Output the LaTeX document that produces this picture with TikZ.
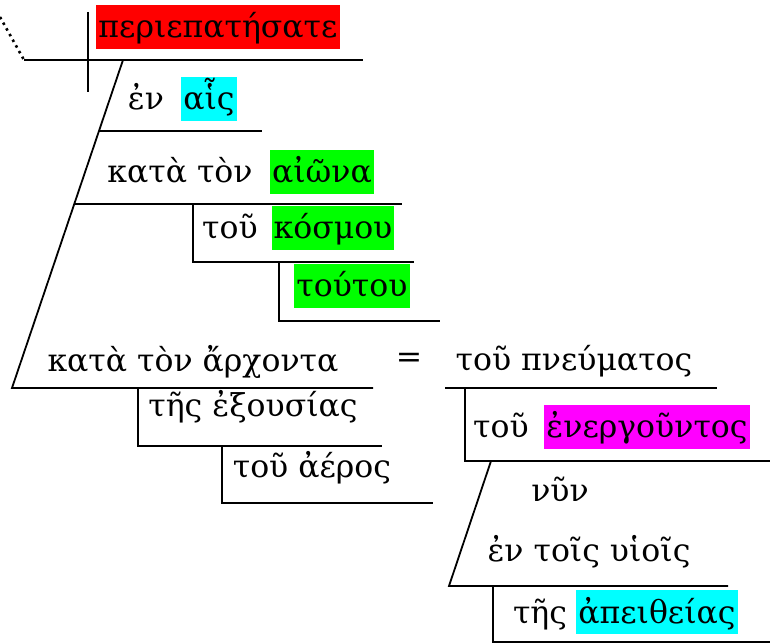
\documentclass[tikz,border=0pt]{standalone}
\usepackage{fontspec}
\setmainfont{DejaVu Serif}
\usepackage{tikz}
\usetikzlibrary{positioning}
\definecolor{hlred}{RGB}{255,0,0}
\definecolor{hlcyan}{RGB}{0,255,255}
\definecolor{hlgreen}{RGB}{0,255,0}
\definecolor{hlmagenta}{RGB}{255,0,255}

\begin{document}
\begin{tikzpicture}[
    x=1pt, y=-1pt,
    word/.style={inner sep=2pt, anchor=base, text height=31pt, text depth=9pt, font=\fontsize{31.5}{36}\selectfont},
    rule/.style={line width=1.8pt},
    dots/.style={line width=2.6pt, dash pattern=on 2.5pt off 4pt}
]
\useasboundingbox (0,0) rectangle (777,644);

\coordinate (lead) at (0,17);
\coordinate (mainL) at (24,60);
\coordinate (mainR) at (363,60);
\coordinate (divT) at (88,12);
\coordinate (divB) at (88,92);
\coordinate (slantT) at (123,60);
\coordinate (slantB) at (12,388);
\coordinate (enL) at (99,131);
\coordinate (enR) at (262,131);
\coordinate (aionL) at (75,204);
\coordinate (aionR) at (402,204);
\coordinate (kosmouT) at (193,204);
\coordinate (kosmouB) at (193,262);
\coordinate (kosmouR) at (414,262);
\coordinate (toutouT) at (279,262);
\coordinate (toutouB) at (279,321);
\coordinate (toutouR) at (440,321);
\coordinate (archR) at (373,388);
\coordinate (pneuL) at (445,388);
\coordinate (pneuR) at (717,388);
\coordinate (exT) at (138,388);
\coordinate (exB) at (138,446);
\coordinate (exR) at (382,446);
\coordinate (aerT) at (222,446);
\coordinate (aerB) at (222,503);
\coordinate (aerR) at (433,503);
\coordinate (enerT) at (465,388);
\coordinate (enerB) at (465,461);
\coordinate (enerR) at (770,461);
\coordinate (nynT) at (491,461);
\coordinate (nynB) at (449,586);
\coordinate (huiR) at (728,586);
\coordinate (apT) at (493,586);
\coordinate (apB) at (493,642);
\coordinate (apR) at (770,642);

\draw[dots] (lead) -- (mainL);
\draw[rule] (mainL) -- (mainR);
\draw[rule] (divT) -- (divB);
\draw[rule] (slantT) -- (slantB) -- (archR);
\draw[rule] (enL) -- (enR);
\draw[rule] (aionL) -- (aionR);
\draw[rule] (kosmouT) -- (kosmouB) -- (kosmouR);
\draw[rule] (toutouT) -- (toutouB) -- (toutouR);
\draw[rule] (pneuL) -- (pneuR);
\draw[rule] (exT) -- (exB) -- (exR);
\draw[rule] (aerT) -- (aerB) -- (aerR);
\draw[rule] (enerT) -- (enerB) -- (enerR);
\draw[rule] (nynT) -- (nynB) -- (huiR);
\draw[rule] (apT) -- (apB) -- (apR);

\node[word, fill=hlred] (verb) at (218,38) {περιεπατήσατε};
\node[word] (en) at (146,110) {ἐν};
\node[word, fill=hlcyan] (ais) at (209,110) {αἷς};
\node[word] (kataton) at (180,183) {κατὰ τὸν};
\node[word, fill=hlgreen] (aiona) at (322,183) {αἰῶνα};
\node[word] (tou) at (230,239) {τοῦ};
\node[word, fill=hlgreen] (kosmou) at (333,239) {κόσμου};
\node[word, fill=hlgreen] (toutou) at (352,297) {τούτου};
\node[word] (archonta) at (193,372) {κατὰ τὸν ἄρχοντα};
\node[word] (equals) at (409,368) {=};
\node[word] (pneumatos) at (574,371) {τοῦ πνεύματος};
\node[word] (exousias) at (253,417) {τῆς ἐξουσίας};
\node[word] (aeros) at (312,477) {τοῦ ἀέρος};
\node[word] (tou2) at (501,438) {τοῦ};
\node[word, fill=hlmagenta] (energountos) at (647,438) {ἐνεργοῦντος};
\node[word] (nyn) at (560,501) {νῦν};
\node[word] (huiois) at (589,561) {ἐν τοῖς υἱοῖς};
\node[word] (tes) at (540,623) {τῆς};
\node[word, fill=hlcyan] (apeitheias) at (657,623) {ἀπειθείας};
\end{tikzpicture}
\end{document}
